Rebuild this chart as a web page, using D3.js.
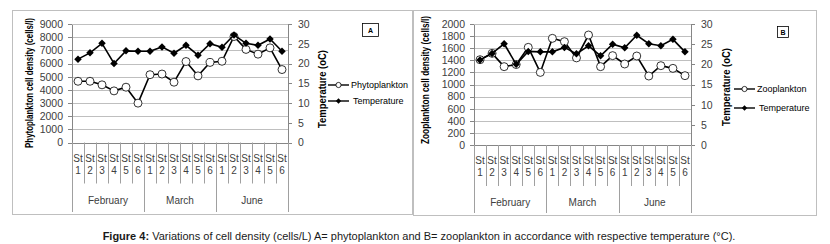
<!DOCTYPE html>
<html lang="en">
<head>
  <meta charset="UTF-8">
  <title>Figure 4</title>
  <script src="https://d3js.org/d3.v7.min.js"></script>
  <style>
    body { margin: 0; background: #fff; }
    .axis path, .axis line { fill: none; stroke: #868686; shape-rendering: crispEdges; }
    .axis text { font-family: "Liberation Sans", Arial, sans-serif; font-size: 10.5px; fill: #404040; }
    .grid line { stroke: #bfbfbf; shape-rendering: crispEdges; }
    .grid path { display: none; }
    .cat { font-family: "Liberation Sans", Arial, sans-serif; font-size: 10px; fill: #404040; text-anchor: middle; }
    .ttl { font-family: "Liberation Sans", Arial, sans-serif; font-size: 10px; font-weight: bold; fill: #000; text-anchor: middle; }
    .legend { font-family: "Liberation Sans", Arial, sans-serif; font-size: 9px; fill: #000; }
  </style>
</head>
<body>
<div id="app"></div>
<script>
  // data
  var months = ["February", "March", "June"];
  var stations = ["1", "2", "3", "4", "5", "6"];
  var temperature = [21.1, 22.7, 25.1, 20.0, 23.2, 23.1, 23.1, 24.2, 22.6, 24.6, 22.1, 25.0, 24.1, 27.2, 25.1, 24.6, 26.2, 23.1];
  var phytoplankton = [4650, 4650, 4380, 3920, 4200, 2990, 5150, 5200, 4580, 6150, 5060, 6080, 6170, 8050, 7070, 6710, 7190, 5540];
  var zooplankton = [1410, 1515, 1295, 1330, 1614, 1200, 1763, 1708, 1440, 1818, 1295, 1477, 1339, 1471, 1140, 1311, 1267, 1146];
  var phytoTicks = [0, 1000, 2000, 3000, 4000, 5000, 6000, 7000, 8000, 9000];
  var zooTicks = [0, 200, 400, 600, 800, 1000, 1200, 1400, 1600, 1800, 2000];
  var tempTicks = [0, 5, 10, 15, 20, 25, 30];

  var width = 830, height = 244;

  var cats = [];
  months.forEach(function (m) {
    stations.forEach(function (s) { cats.push(m + "|" + s); });
  });

  var svg = d3.select("#app").append("svg")
    .attr("width", width)
    .attr("height", height);

  function drawPanel(p) {
    // frame
    svg.append("rect")
      .attr("x", p.frame[0] + 0.5).attr("y", p.frame[1] + 0.5)
      .attr("width", p.frame[2]).attr("height", p.frame[3])
      .attr("fill", "#fff").attr("stroke", "#bfbfbf");

    var x = d3.scaleBand().domain(cats).range([p.left, p.right]);
    var y = d3.scaleLinear().domain([0, p.yMax]).range([p.bottom, p.top]);
    var yT = d3.scaleLinear().domain([0, 30]).range([p.bottom, p.top]);
    var pw = p.right - p.left;

    // gridlines
    svg.append("g")
      .attr("class", "grid")
      .attr("transform", "translate(" + p.left + ",0)")
      .call(d3.axisLeft(y).tickValues(p.ticks.slice(1)).tickSize(-pw).tickFormat(""));

    // left axis
    svg.append("g")
      .attr("class", "axis")
      .attr("transform", "translate(" + p.left + ",0)")
      .call(d3.axisLeft(y).tickValues(p.ticks).tickFormat(d3.format("d"))
        .tickSize(4).tickSizeOuter(0).tickPadding(5));

    // right axis
    svg.append("g")
      .attr("class", "axis")
      .attr("transform", "translate(" + p.right + ",0)")
      .call(d3.axisRight(yT).tickValues(tempTicks).tickFormat(d3.format("d"))
        .tickSize(4).tickSizeOuter(0).tickPadding(6));

    // baseline
    svg.append("line")
      .attr("x1", p.left).attr("x2", p.right)
      .attr("y1", Math.round(p.bottom) + 0.5).attr("y2", Math.round(p.bottom) + 0.5)
      .attr("stroke", "#868686");

    // category separators and labels
    var sep = svg.append("g");
    cats.forEach(function (c, i) {
      var xe = Math.round(x(c)) + 0.5;
      var isMonth = i % stations.length === 0;
      sep.append("line")
        .attr("x1", xe).attr("x2", xe)
        .attr("y1", p.bottom).attr("y2", isMonth ? p.monthEnd : p.bottom + 41)
        .attr("stroke", "#a0a0a0");
      var cx = x(c) + x.bandwidth() / 2;
      sep.append("text").attr("class", "cat").attr("x", cx).attr("y", p.bottom + 19).text("St");
      sep.append("text").attr("class", "cat").attr("x", cx).attr("y", p.bottom + 31).text(c.split("|")[1]);
    });
    var xEnd = Math.round(p.right) + 0.5;
    sep.append("line")
      .attr("x1", xEnd).attr("x2", xEnd)
      .attr("y1", p.bottom).attr("y2", p.monthEnd)
      .attr("stroke", "#a0a0a0");
    months.forEach(function (m) {
      var a = x(m + "|" + stations[0]);
      var b = x(m + "|" + stations[stations.length - 1]) + x.bandwidth();
      sep.append("text").attr("class", "cat")
        .attr("x", (a + b) / 2).attr("y", p.bottom + 61).text(m);
    });

    // axis titles
    svg.append("text").attr("class", "ttl")
      .attr("transform", "translate(" + p.titleX + "," + p.titleY + ") rotate(-90)")
      .attr("textLength", p.titleLen).attr("lengthAdjust", "spacingAndGlyphs")
      .text(p.title);
    svg.append("text").attr("class", "ttl")
      .attr("transform", "translate(" + p.rTitleX + "," + p.rTitleY + ") rotate(-90)")
      .attr("textLength", 78).attr("lengthAdjust", "spacingAndGlyphs")
      .text("Temperature (oC)");

    var line = d3.line()
      .x(function (d, i) { return x(cats[i]) + x.bandwidth() / 2; });

    // plankton series
    svg.append("path")
      .attr("d", line.y(function (d) { return y(d); })(p.values))
      .attr("fill", "none").attr("stroke", "#000").attr("stroke-width", 1.6);
    svg.append("g").selectAll("circle")
      .data(p.values)
      .enter().append("circle")
      .attr("cx", function (d, i) { return x(cats[i]) + x.bandwidth() / 2; })
      .attr("cy", function (d) { return y(d); })
      .attr("r", 4)
      .attr("fill", "#fff").attr("stroke", "#000").attr("stroke-width", 0.8);

    // temperature series
    var diamond = d3.symbol().type(d3.symbolDiamond2).size(36);
    svg.append("path")
      .attr("d", line.y(function (d) { return yT(d); })(temperature))
      .attr("fill", "none").attr("stroke", "#000").attr("stroke-width", 1.6);
    svg.append("g").selectAll("path")
      .data(temperature)
      .enter().append("path")
      .attr("d", diamond)
      .attr("transform", function (d, i) {
        return "translate(" + (x(cats[i]) + x.bandwidth() / 2) + "," + yT(d) + ")";
      })
      .attr("fill", "#000");

    // legend
    var lg = svg.append("g").attr("class", "legend");
    lg.append("line").attr("x1", p.legX).attr("x2", p.legX + 21)
      .attr("y1", p.legY1).attr("y2", p.legY1).attr("stroke", "#000").attr("stroke-width", 1.4);
    lg.append("circle").attr("cx", p.legX + 10.5).attr("cy", p.legY1).attr("r", 2.6)
      .attr("fill", "#fff").attr("stroke", "#000").attr("stroke-width", 0.8);
    lg.append("text").attr("x", p.legX + 23).attr("y", p.legY1 + 3).text(p.name);
    lg.append("line").attr("x1", p.legX).attr("x2", p.legX + 21)
      .attr("y1", p.legY2).attr("y2", p.legY2).attr("stroke", "#000").attr("stroke-width", 1.4);
    lg.append("path").attr("d", d3.symbol().type(d3.symbolDiamond2).size(18))
      .attr("transform", "translate(" + (p.legX + 10.5) + "," + p.legY2 + ")");
    lg.append("text").attr("x", p.legX + 25).attr("y", p.legY2 + 3).text("Temperature");

    // panel letter box
    svg.append("rect")
      .attr("x", p.box[0] + 0.5).attr("y", p.box[1] + 0.5)
      .attr("width", p.box[2]).attr("height", p.box[3])
      .attr("fill", "#fff").attr("stroke", "#000").attr("stroke-width", 0.8);
    svg.append("text")
      .attr("x", p.box[0] + p.box[2] / 2 + 0.5).attr("y", p.box[1] + p.box[3] / 2 + 3)
      .attr("text-anchor", "middle")
      .style("font-family", "Liberation Sans, Arial, sans-serif")
      .style("font-size", "7px").style("font-weight", "bold")
      .text(p.letter);
  }

  drawPanel({
    frame: [12, 10, 401, 204],
    left: 72, right: 288, top: 24, bottom: 142.5, monthEnd: 212,
    yMax: 9000, ticks: phytoTicks, values: phytoplankton,
    title: "Phytoplankton cell density (cells/l)", titleX: 33, titleY: 83, titleLen: 130,
    rTitleX: 326, rTitleY: 89,
    name: "Phytoplankton", legX: 328, legY1: 85, legY2: 101,
    box: [362, 23, 16, 13], letter: "A"
  });

  drawPanel({
    frame: [413, 10, 403, 205],
    left: 474, right: 691, top: 24, bottom: 145, monthEnd: 213,
    yMax: 2000, ticks: zooTicks, values: zooplankton,
    title: "Zooplankton cell density (cells/l)", titleX: 429, titleY: 80, titleLen: 128,
    rTitleX: 730, rTitleY: 87,
    name: "Zooplankton", legX: 734, legY1: 89, legY2: 108,
    box: [777, 26, 11, 11], letter: "B"
  });

  // divider shading between the two panels
  svg.append("line")
    .attr("x1", 413).attr("x2", 413).attr("y1", 10).attr("y2", 215)
    .attr("stroke", "#bfbfbf").attr("stroke-width", 2);

  // caption
  var cap = svg.append("text")
    .attr("x", 419).attr("y", 240)
    .attr("text-anchor", "middle")
    .style("font-family", "Liberation Sans, Arial, sans-serif")
    .style("font-size", "11px")
    .style("fill", "#1a1a1a");
  cap.append("tspan").style("font-weight", "bold").text("Figure 4: ");
  cap.append("tspan").text("Variations of cell density (cells/L) A= phytoplankton and B= zooplankton in accordance with respective temperature (°C).");
</script>
</body>
</html>
